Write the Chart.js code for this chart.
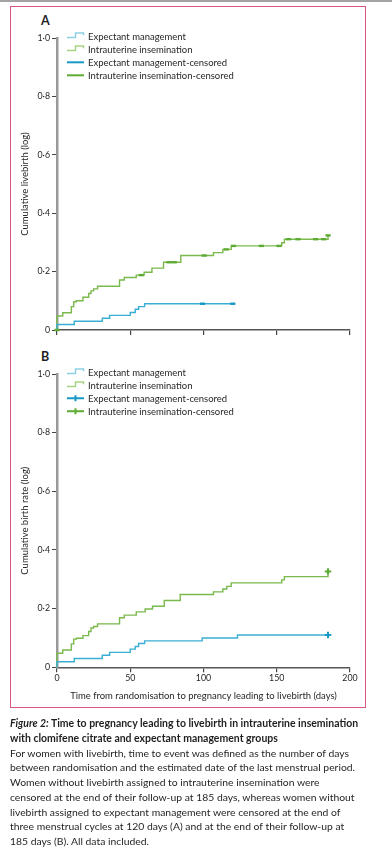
<!DOCTYPE html>
<html><head><meta charset="utf-8">
<script src="https://cdn.jsdelivr.net/npm/chart.js@4.4.1/dist/chart.umd.min.js"></script>
<style>
html,body{margin:0;padding:0;background:#fff;}
body{width:392px;height:856px;position:relative;overflow:hidden;font-family:Lato,"Open Sans",sans-serif;color:#1f1f1f;}
#topline{position:absolute;left:0;top:0;width:392px;height:2px;background:#a3a3a3;}
#frame{position:absolute;left:10px;top:6px;width:354px;height:700px;border:1.5px solid #d6577f;}
canvas{position:absolute;left:0;}
#cA{top:0;}
#cB{top:340px;}
.panel{position:absolute;left:41px;font-weight:bold;font-size:12.5px;line-height:14px;}
#caption{position:absolute;left:10px;top:716px;white-space:nowrap;}
#caption div{line-height:14.75px;height:14.75px;}
#caption .b{font-weight:bold;}
</style></head>
<body>
<div id="topline"></div>
<div id="frame"></div>
<div class="panel" style="top:14px">A</div>
<div class="panel" style="top:350px">B</div>
<canvas id="cA" width="392" height="345" style="width:392px;height:345px"></canvas>
<canvas id="cB" width="392" height="370" style="width:392px;height:370px"></canvas>
<div id="caption">
<div class="b" id="t1"><i>Figure 2:</i> Time to pregnancy leading to livebirth in intrauterine insemination</div>
<div class="b">with clomifene citrate and expectant management groups</div>
<div class="n" id="n1">For women with livebirth, time to event was defined as the number of days</div>
<div class="n">between randomisation and the estimated date of the last menstrual period.</div>
<div class="n">Women without livebirth assigned to intrauterine insemination were</div>
<div class="n">censored at the end of their follow-up at 185 days, whereas women without</div>
<div class="n">livebirth assigned to expectant management were censored at the end of</div>
<div class="n">three menstrual cycles at 120 days (A) and at the end of their follow-up at</div>
<div class="n">185 days (B). All data included.</div>
</div>
<script>
// ---------- data ----------
const seriesLabels = ['Expectant management', 'Intrauterine insemination', 'Expectant management-censored', 'Intrauterine insemination-censored'];
const xTickValues = [0, 50, 100, 150, 200];
const yTickLabels = ['0', '0·2', '0·4', '0·6', '0·8', '1·0'];

// Panel A
const emDaysA = [0, 0, 11.8, 30.9, 35.9, 50, 53.4, 55.7, 59.8, 121.5];
const emValsA = [0, 0.019, 0.030, 0.040, 0.050, 0.060, 0.071, 0.080, 0.090, 0.090];
const iuiDaysA = [0, 0, 3.9, 9.8, 11.4, 13.2, 17.7, 21.6, 23.2, 25, 27.7, 42.7, 45.9, 54.1, 59.5, 64.8, 72.7, 84.5, 106.8, 113.2, 118.9, 153.4, 155.2, 185];
const iuiValsA = [0, 0.048, 0.059, 0.080, 0.097, 0.100, 0.112, 0.125, 0.134, 0.141, 0.150, 0.171, 0.180, 0.188, 0.198, 0.212, 0.232, 0.255, 0.265, 0.276, 0.288, 0.299, 0.311, 0.324];
const emCensDaysA = [99.3, 120];
const emCensValsA = [0.090, 0.090];
const iuiCensDaysA = [0, 57.5, 76.5, 80, 100.5, 115.5, 120.5, 139.5, 151.5, 158, 164.5, 176.5, 182, 185];
const iuiCensValsA = [0, 0.188, 0.232, 0.232, 0.255, 0.276, 0.288, 0.288, 0.288, 0.311, 0.311, 0.311, 0.311, 0.324];

// Panel B
const emDaysB = [0, 0, 11.8, 30.9, 35.9, 50, 53.4, 55.7, 59.8, 99.1, 123.2, 185];
const emValsB = [0, 0.019, 0.030, 0.041, 0.051, 0.062, 0.071, 0.081, 0.090, 0.100, 0.110, 0.110];
const iuiDaysB = [0, 0, 3.9, 9.8, 11.4, 13.2, 17.7, 21.6, 23.2, 25, 27.7, 42.7, 45.9, 54.1, 60.2, 65.2, 73.2, 84.1, 106.8, 113.2, 115.9, 118.9, 153.4, 155.2, 185];
const iuiValsB = [0, 0.048, 0.059, 0.080, 0.096, 0.099, 0.108, 0.122, 0.134, 0.139, 0.148, 0.169, 0.178, 0.189, 0.199, 0.208, 0.228, 0.248, 0.257, 0.267, 0.276, 0.288, 0.298, 0.309, 0.327];
const emCensDaysB = [185];
const emCensValsB = [0.110];
const iuiCensDaysB = [185];
const iuiCensValsB = [0.327];

// ---------- styling ----------
const FONT = 'Lato, "Open Sans", sans-serif';
const COL = {
  emLine: '#3aaed2', iuiLine: '#7ab94c',
  emLight: '#8ed0e2', iuiLight: '#a6d587',
  emDark: '#1898c4', iuiDark: '#5eab34',
  text: '#262626'
};

// font size fitting by measurement
const mctx = document.createElement('canvas').getContext('2d');
function fitSize(text, weight, target) {
  mctx.font = weight + ' 10px ' + FONT;
  const w = mctx.measureText(text).width;
  return 10 * target / w;
}
const chartFs = fitSize('Intrauterine insemination-censored', 'normal', 146);
const tickFs = fitSize('0·4', 'normal', 12.5);
const capFs = fitSize('For women with livebirth, time to event was defined as the number of days', 'normal', 341);
const capBoldFs = fitSize('Figure 2: Time to pregnancy leading to livebirth in intrauterine insemination', 'bold', 351);
document.querySelectorAll('#caption .n').forEach(d => d.style.fontSize = capFs + 'px');
document.querySelectorAll('#caption .b').forEach(d => d.style.fontSize = capBoldFs + 'px');

const zip = (xs, ys) => xs.map((x, i) => ({x, y: ys[i]}));

const legendPlugin = {
  id: 'kmLegend',
  afterDraw(chart, args, opts) {
    const ctx = chart.ctx, ca = chart.chartArea;
    const x0 = ca.left + 10;
    ctx.save();
    ctx.font = chartFs + 'px ' + FONT;
    ctx.textBaseline = 'middle';
    chart.data.datasets.forEach((ds, i) => {
      const y = ca.top - 1.7 + i * 13;
      ctx.beginPath();
      if (i < 2) {
        ctx.strokeStyle = i === 0 ? COL.emLight : COL.iuiLight;
        ctx.lineWidth = 1.5;
        ctx.moveTo(x0, y + 1.3); ctx.lineTo(x0 + 8.5, y + 1.3); ctx.lineTo(x0 + 8.5, y - 3.3);
        ctx.lineTo(x0 + 16.5, y - 3.3); ctx.lineTo(x0 + 16.5, y - 1);
        ctx.stroke();
      } else {
        ctx.strokeStyle = i === 2 ? COL.emDark : COL.iuiDark;
        ctx.lineWidth = 2;
        ctx.moveTo(x0, y); ctx.lineTo(x0 + 17, y);
        if (opts.plus) { ctx.moveTo(x0 + 8.5, y - 3); ctx.lineTo(x0 + 8.5, y + 3); }
        ctx.stroke();
      }
      ctx.fillStyle = COL.text;
      ctx.fillText(ds.label, x0 + 21, y + 0.5);
    });
    ctx.restore();
  }
};

function makeChart(id, cfg) {
  const lineDs = (label, data, color) => ({
    label, data, stepped: true, borderColor: color, backgroundColor: color,
    borderWidth: 1.4, pointRadius: 0, fill: false, clip: false, order: 2
  });
  const censDs = (label, data, color) => ({
    label, data, showLine: false, borderColor: color, backgroundColor: color,
    pointStyle: cfg.plus ? 'cross' : 'line', pointRadius: cfg.plus ? 3.2 : 2.6,
    pointBorderWidth: cfg.plus ? 2 : 2.4, pointHoverRadius: 0, clip: false, order: 1
  });
  return new Chart(document.getElementById(id), {
    type: 'line',
    data: {
      datasets: [
        lineDs(seriesLabels[0], zip(cfg.emD, cfg.emV), COL.emLine),
        lineDs(seriesLabels[1], zip(cfg.iuiD, cfg.iuiV), COL.iuiLine),
        censDs(seriesLabels[2], zip(cfg.emCD, cfg.emCV), COL.emDark),
        censDs(seriesLabels[3], zip(cfg.iuiCD, cfg.iuiCV), COL.iuiDark)
      ]
    },
    options: {
      responsive: false, animation: false, devicePixelRatio: 1,
      layout: {padding: {left: 10, right: 42, top: cfg.top, bottom: 0}},
      plugins: {legend: {display: false}, tooltip: {enabled: false}, kmLegend: {plus: cfg.plus}},
      scales: {
        x: {
          type: 'linear', min: 0, max: 200,
          afterBuildTicks: s => { s.ticks = xTickValues.map(v => ({value: v})); },
          afterFit: s => { s.height = cfg.xh; },
          grid: {drawOnChartArea: false, drawTicks: true, tickLength: 5, color: '#444', lineWidth: 1.2},
          border: {display: true, color: '#555', width: 1.5},
          ticks: {
            display: cfg.xlabels, padding: 1, color: COL.text, maxRotation: 0,
            font: {family: FONT, size: tickFs},
            callback: (v) => String(v)
          },
          title: {
            display: !!cfg.xtitle, text: cfg.xtitle || '', color: COL.text,
            font: {family: FONT, size: chartFs}, padding: {top: 0, bottom: 8}
          }
        },
        y: {
          type: 'linear', min: 0, max: 1,
          afterBuildTicks: s => { s.ticks = yTickLabels.map((t, i) => ({value: i * 0.2})); },
          afterFit: s => { s.width = 47; },
          grid: {drawOnChartArea: false, drawTicks: true, tickLength: 5, color: '#444', lineWidth: 1},
          border: {display: true, color: '#9a9a9a', width: 2.5},
          ticks: {
            padding: 2, color: COL.text, font: {family: FONT, size: tickFs},
            callback: (v, i) => yTickLabels[i]
          },
          title: {
            display: true, text: cfg.ytitle, color: COL.text,
            font: {family: FONT, size: chartFs}, padding: {top: 9, bottom: 0}
          }
        }
      }
    },
    plugins: [legendPlugin]
  });
}

makeChart('cA', {
  emD: emDaysA, emV: emValsA, iuiD: iuiDaysA, iuiV: iuiValsA,
  emCD: emCensDaysA, emCV: emCensValsA, iuiCD: iuiCensDaysA, iuiCV: iuiCensValsA,
  plus: false, top: 38, xh: 15, xlabels: false, xtitle: '', ytitle: 'Cumulative livebirth (log)'
});
makeChart('cB', {
  emD: emDaysB, emV: emValsB, iuiD: iuiDaysB, iuiV: iuiValsB,
  emCD: emCensDaysB, emCV: emCensValsB, iuiCD: iuiCensDaysB, iuiCV: iuiCensValsB,
  plus: true, top: 34, xh: 42.7, xlabels: true,
  xtitle: 'Time from randomisation to pregnancy leading to livebirth (days)',
  ytitle: 'Cumulative birth rate (log)'
});
</script>
</body></html>
